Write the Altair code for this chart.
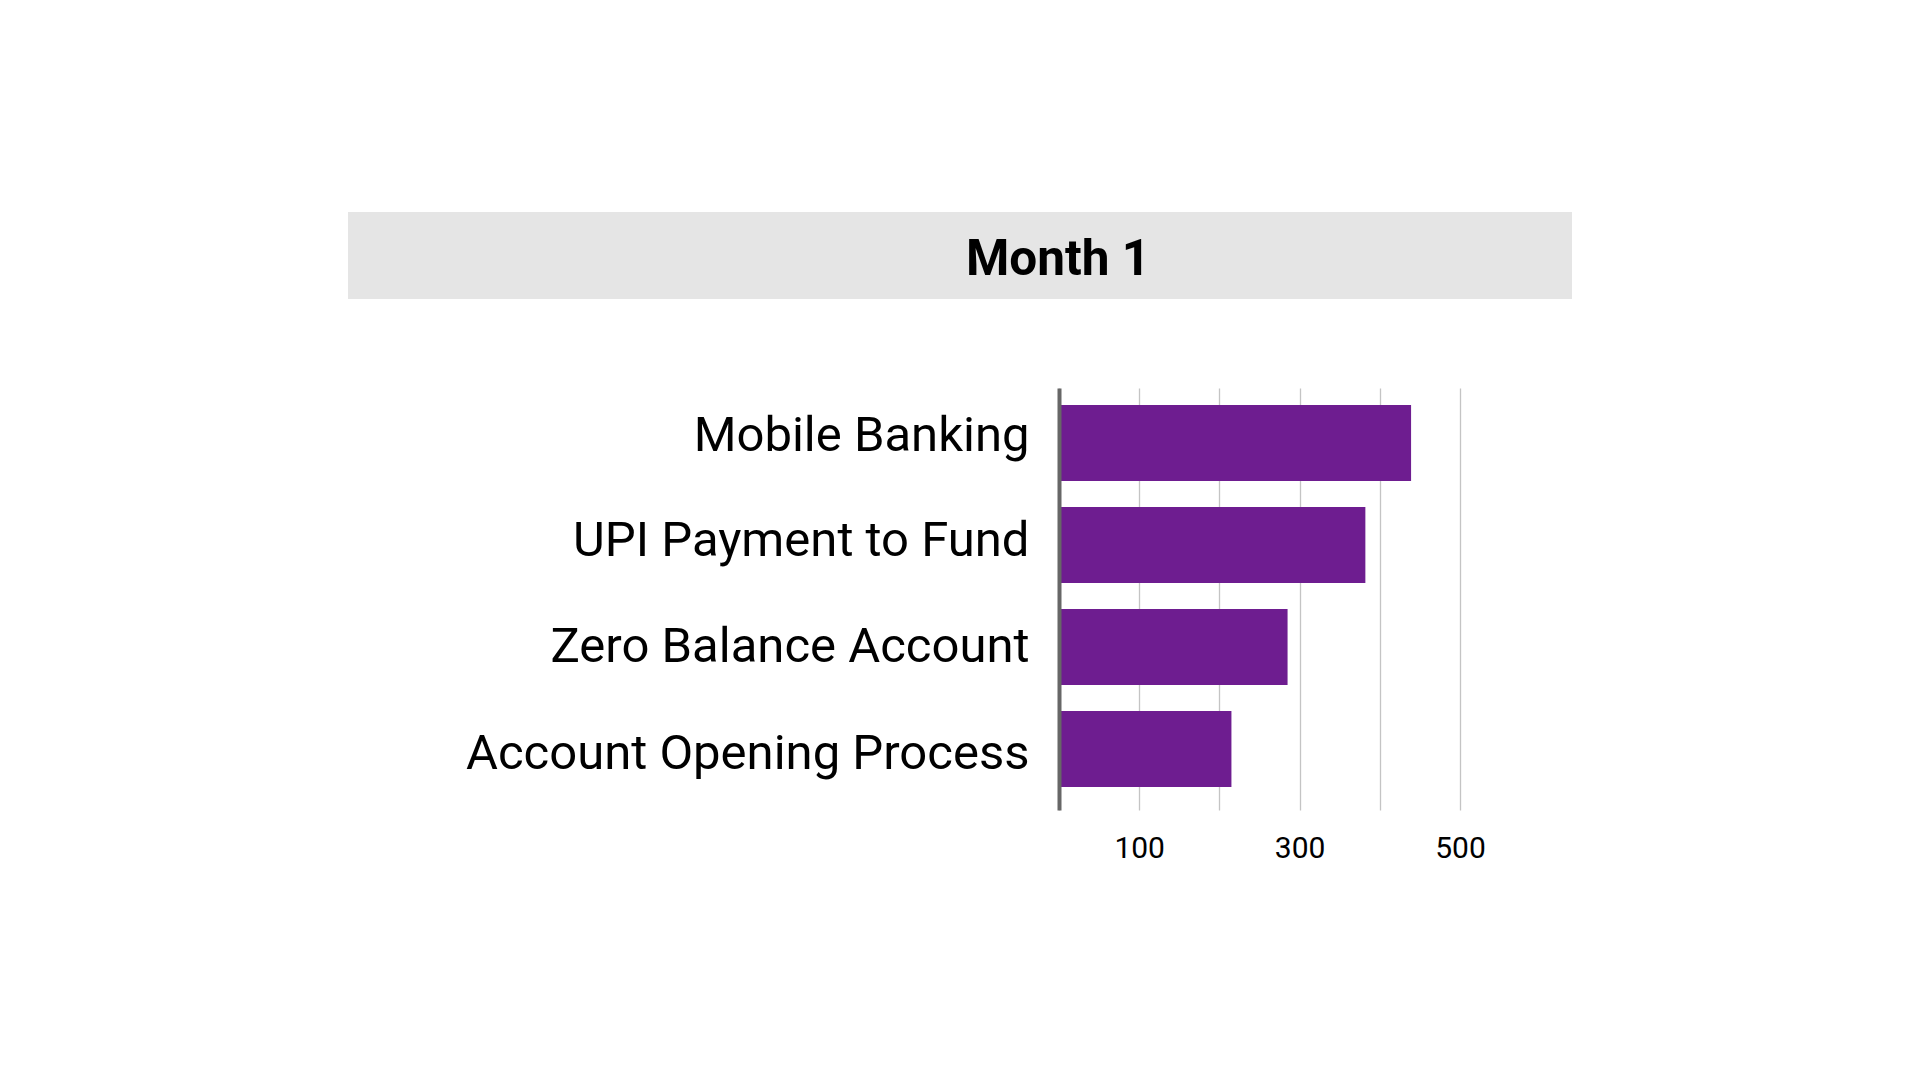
import altair as alt
import pandas as pd

# ---- data ----
categories = ["Mobile Banking", "UPI Payment to Fund", "Zero Balance Account", "Account Opening Process"]
values = [439, 382, 285, 215]
title_text = ["Month 1"]
grid_ticks = [0, 100, 200, 300, 400, 500]
label_ticks = [100, 300, 500]

# small per-label vertical nudges (style only), matching the reference's label placement
label_nudges = [8, 11, 15, 19.5]

df = pd.DataFrame({"category": categories, "value": values})
title_df = pd.DataFrame({"title": title_text})

W, H = 401, 422

label_offset = {
    "condition": [
        {"test": f"datum.value == '{c}'", "value": n}
        for c, n in zip(categories, label_nudges)
    ],
    "value": 9,
}

bars = alt.Chart(df).mark_bar(color="#6E1D90").encode(
    x=alt.X(
        "value:Q",
        scale=alt.Scale(domain=[0, 500], nice=False, zero=True),
        axis=alt.Axis(
            values=grid_ticks,
            labelExpr=f"indexof({label_ticks}, datum.value) >= 0 ? datum.label : ''",
            title=None,
            domain=False,
            ticks=False,
            grid=True,
            gridColor="#c4c4c4",
            gridWidth=1.3,
            labelFont="Roboto",
            labelFontSize=30,
            labelColor="#000000",
            labelBaseline="alphabetic",
            labelPadding=47,
            labelFlush=False,
            labelOverlap=False,
            zindex=0,
        ),
    ),
    y=alt.Y(
        "category:N",
        sort=categories,
        scale=alt.Scale(paddingInner=0.255, paddingOuter=0.196, align=0.425),
        axis=alt.Axis(
            title=None,
            ticks=False,
            grid=False,
            domain=True,
            domainColor="#676767",
            domainWidth=4,
            labelFont="Roboto",
            labelFontSize=49,
            labelColor="#000000",
            labelPadding=30,
            labelBaseline="alphabetic",
            labelOffset=label_offset,
            labelLimit=0,
            zindex=1,
        ),
    ),
)

header_bg = alt.Chart(title_df).mark_rect(color="#e5e5e5").encode(
    x=alt.value(348 - 1059),
    x2=alt.value(1572 - 1059),
    y=alt.value(212 - 388),
    y2=alt.value(299 - 388),
)

header_text = alt.Chart(title_df).mark_text(
    font="Roboto", fontSize=49.5, fontWeight="bold", color="#000000",
    align="center", baseline="alphabetic",
).encode(
    x=alt.value(1058 - 1059),
    y=alt.value(275 - 388),
    text="title:N",
)

chart = alt.layer(header_bg, header_text, bars).properties(
    width=W,
    height=H,
    padding={"left": 340, "top": 204, "right": 200, "bottom": 100},
    background="#ffffff",
).configure_view(stroke=None)

chart.save("out.html", embed_options={"renderer": "svg", "actions": False})
